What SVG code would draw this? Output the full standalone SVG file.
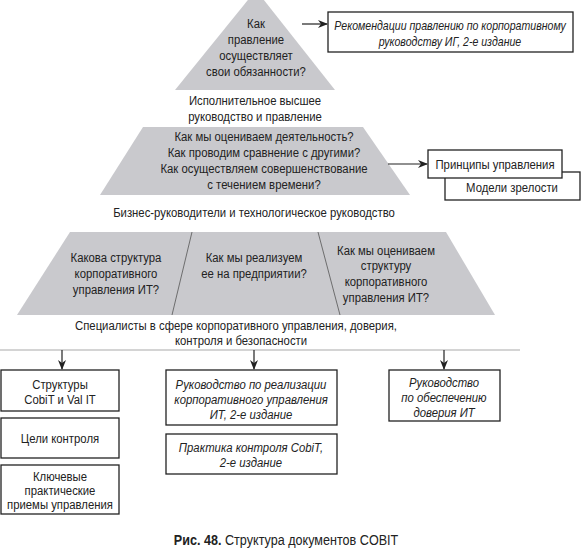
<svg xmlns="http://www.w3.org/2000/svg" width="585" height="553" viewBox="0 0 585 553">
<style>
text{font-family:"Liberation Sans",Arial,sans-serif;font-size:13.5px;fill:#222;text-anchor:middle;transform-box:fill-box;transform-origin:center;transform:scaleX(0.84)}
.it{font-style:italic}
.sm{font-size:12.6px}
.cap{font-size:15px}
.box{fill:#fff;stroke:#222;stroke-width:1.3}
.pyr{fill:#c9c9cd}
.con{stroke:#222;stroke-width:1.2;fill:none}
</style>
<defs>
<marker id="ah" markerWidth="10" markerHeight="8" refX="9" refY="4" orient="auto" markerUnits="userSpaceOnUse">
<path d="M0,0 L10,4 L0,8 L3,4 Z" fill="#222"/>
</marker>
</defs>
<g id="level1">
<polygon class="pyr" points="256,-10 335,90 175,90"/>
<text x="256" y="28">Как</text>
<text x="256" y="44">правление</text>
<text x="256" y="60">осуществляет</text>
<text x="256" y="76">свои обязанности?</text>
<text x="255" y="105">Исполнительное высшее</text>
<text x="255" y="121">руководство и правление</text>
</g>
<g id="level2">
<polygon class="pyr" points="143,127 363,127 410,195 100,195"/>
<text x="264" y="141">Как мы оцениваем деятельность?</text>
<text x="264" y="157">Как проводим сравнение с другими?</text>
<text x="264" y="173">Как осуществляем совершенствование</text>
<text x="264" y="189">с течением времени?</text>
<text x="254" y="217">Бизнес-руководители и технологическое руководство</text>
</g>
<g id="level3">
<polygon class="pyr" points="70,232 446,232 495,315 17,315"/>
<line x1="192" y1="232" x2="172" y2="315" stroke="#555" stroke-width="0.8"/>
<line x1="318" y1="232" x2="340" y2="315" stroke="#555" stroke-width="0.8"/>
<text x="116" y="262">Какова структура</text>
<text x="116" y="278">корпоративного</text>
<text x="116" y="294">управления ИТ?</text>
<text x="254" y="262">Как мы реализуем</text>
<text x="254" y="278">ее на предприятии?</text>
<text x="386" y="255">Как мы оцениваем</text>
<text x="386" y="270">структуру</text>
<text x="386" y="286">корпоративного</text>
<text x="386" y="302">управления ИТ?</text>
<text x="236" y="330">Специалисты в сфере корпоративного управления, доверия,</text>
<text x="241" y="345">контроля и безопасности</text>
</g>
<g id="board-doc">
<rect class="box" x="328" y="12" width="245" height="40"/>
<text class="it sm" x="450" y="30">Рекомендации правлению по корпоративному</text>
<text class="it sm" x="450" y="46">руководству ИГ, 2-е издание</text>
</g>
<g id="maturity">
<rect class="box" x="445" y="172" width="135" height="28"/>
<text x="512" y="192">Модели зрелости</text>
</g>
<g id="principles">
<rect class="box" x="428" y="150" width="134" height="28"/>
<text x="495" y="169">Принципы управления</text>
</g>
<g id="frameworks">
<rect class="box" x="1" y="370" width="118" height="41"/>
<text x="60" y="389">Структуры</text>
<text x="60" y="404">CobiT и Val IT</text>
</g>
<g id="control-objectives">
<rect class="box" x="1" y="418" width="118" height="40"/>
<text x="60" y="443">Цели контроля</text>
</g>
<g id="key-practices">
<rect class="box" x="1" y="465" width="118" height="49"/>
<text x="60" y="481">Ключевые</text>
<text x="60" y="495">практические</text>
<text x="60" y="509">приемы управления</text>
</g>
<g id="implementation-guide">
<rect class="box" x="166" y="370" width="171" height="55"/>
<text class="it" x="251" y="389">Руководство по реализации</text>
<text class="it" x="251" y="404">корпоративного управления</text>
<text class="it" x="251" y="419">ИТ, 2-е издание</text>
</g>
<g id="control-practices">
<rect class="box" x="166" y="434" width="171" height="40"/>
<text class="it" x="251" y="452">Практика контроля CobiT,</text>
<text class="it" x="251" y="467">2-е издание</text>
</g>
<g id="assurance-guide">
<rect class="box" x="389" y="370" width="111" height="51"/>
<text class="it" x="444" y="387">Руководство</text>
<text class="it" x="444" y="402">по обеспечению</text>
<text class="it" x="444" y="417">доверия ИТ</text>
</g>
<g id="connectors">
<line x1="0" y1="350" x2="520" y2="350" stroke="#aaa" stroke-width="1.2"/>
<line class="con" x1="302" y1="24" x2="327" y2="24" marker-end="url(#ah)"/>
<line class="con" x1="388" y1="164" x2="427" y2="164" marker-end="url(#ah)"/>
<line class="con" x1="62" y1="350" x2="62" y2="369" marker-end="url(#ah)"/>
<line class="con" x1="254" y1="350" x2="254" y2="369" marker-end="url(#ah)"/>
<line class="con" x1="444" y1="350" x2="444" y2="369" marker-end="url(#ah)"/>
</g>
<g id="caption">
<text class="cap" x="286" y="545"><tspan font-weight="bold">Рис. 48.</tspan> Структура документов COBIT</text>
</g>
</svg>
